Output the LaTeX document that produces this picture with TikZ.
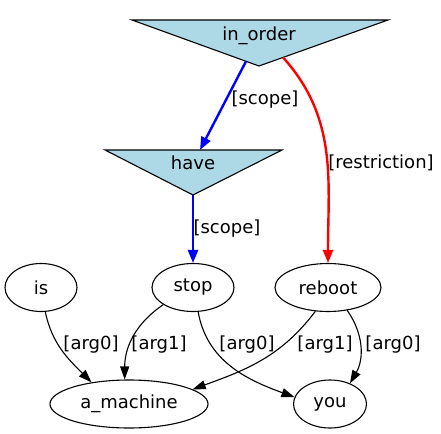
\documentclass[tikz,border=0pt]{standalone}
\usepackage{fontspec}
\setmainfont{DejaVu Sans}
\usetikzlibrary{shapes.geometric,arrows.meta}
\definecolor{lightblue}{HTML}{ADD8E6}
\begin{document}
\begin{tikzpicture}[x=1pt,y=1pt,
  every node/.style={font=\fontsize{18}{20}\selectfont},
  ell/.style={draw,ellipse,line width=1.1pt,inner sep=0pt,minimum height=48pt},
  tri/.style={draw,fill=lightblue,line width=1.1pt,line join=miter},
  lbl/.style={inner sep=0pt},
  arr/.style={line width=1.1pt,-{Triangle[length=13pt,width=9pt]}},
  colarr/.style={line width=2.4pt,-{Triangle[length=13pt,width=10pt]}}]
\useasboundingbox (0,0) rectangle (441,-433);
% triangles
\draw[tri] (132,-20) -- (388,-20) -- (259,-66) -- cycle;
\node (in_order) at (259,-36) {in\_order};
\draw[tri] (105,-150) -- (282,-150) -- (193,-195) -- cycle;
\node (have) at (193,-163) {have};
\coordinate (io_l) at (246,-61.3);
\coordinate (io_r) at (283,-57.4);
\coordinate (hv_t) at (200,-150);
\coordinate (hv_b) at (193,-195);
% ellipses
\node[ell,minimum width=72pt] (is) at (41,-287.5) {is};
\node[ell,minimum width=82pt] (stop) at (193,-287.5) {stop};
\node[ell,minimum width=106pt] (reboot) at (328,-287.5) {reboot};
\node[ell,minimum width=158pt] (a_machine) at (129,-404) {a\_machine};
\node[ell,minimum width=73pt] (you) at (330,-404) {you};
% coloured edges
\draw[colarr,blue] (io_l) -- (hv_t);
\draw[colarr,blue] (hv_b) -- (stop.north);
\draw[colarr,red] (io_r) to[out=-48,in=90] (reboot.north);
% black edges
\draw[arr] (is.-80) to[out=-78,in=135] (a_machine.150);
\draw[arr] (stop.210) to[out=214,in=90] (a_machine.100);
\draw[arr] (stop.-78) to[out=-80,in=160] (you.169);
\draw[arr] (reboot.242) to[out=233,in=20] (a_machine.13);
\draw[arr] (reboot.-50) to[out=-55,in=60] (you.46);
% labels
\node[lbl] (l1) at (265,-100) {[scope]};
\node[lbl] (l2) at (227,-229) {[scope]};
\node[lbl] (l3) at (381,-163) {[restriction]};
\node[lbl] (l4) at (91,-345) {[arg0]};
\node[lbl] (l5) at (159,-345) {[arg1]};
\node[lbl] (l6) at (247,-345) {[arg0]};
\node[lbl] (l7) at (325,-345) {[arg1]};
\node[lbl] (l8) at (393,-345) {[arg0]};
\end{tikzpicture}
\end{document}
